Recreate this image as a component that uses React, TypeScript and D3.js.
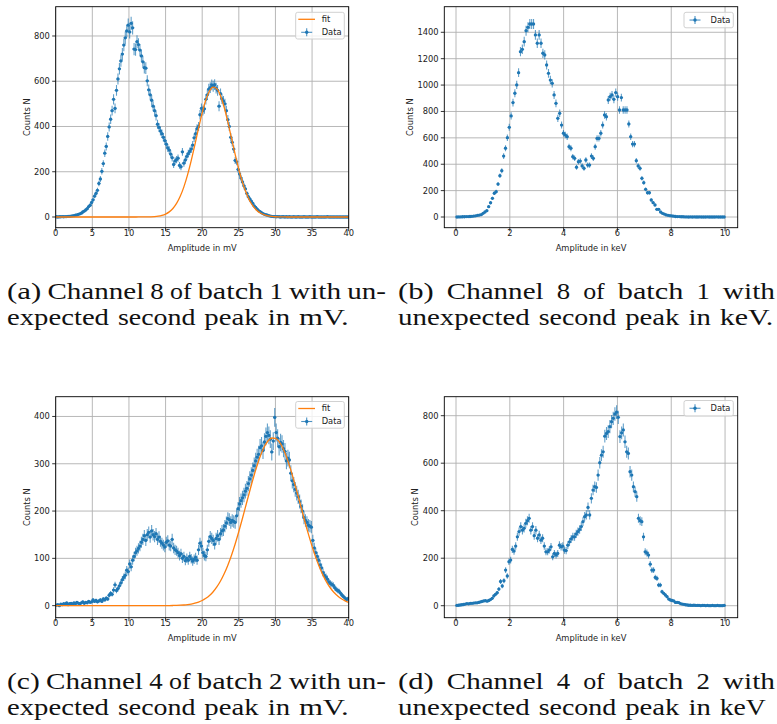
import React from "react";
import * as d3 from "d3";

// ---------------- data ----------------
const MV_BIN = 0.2; // bin width of the mV histograms (centres at 0.1, 0.3, ...)
const KEV_BIN_B = 10 / 144; // bin width of panel (b)
const KEV_BIN_D = 0.0625; // bin width of panel (d)
const FIT_STEP = 0.5; // spacing of the sampled fit curves, mV

// (a) channel 8, batch 1, counts per bin (mV)
const countsA = [
  1, 0, 1, 1, 2, 1, 2, 2, 3, 3,
  4, 5, 6, 8, 9, 12, 14, 17, 22, 26,
  31, 37, 46, 52, 64, 76, 92, 104, 118, 148,
  168, 202, 236, 282, 312, 356, 398, 432, 470, 520,
  480, 560, 610, 655, 690, 720, 760, 792, 822, 848,
  818, 856, 836, 742, 740, 775, 762, 738, 712, 686,
  660, 658, 602, 562, 540, 516, 490, 470, 448, 410,
  396, 380, 368, 352, 338, 322, 305, 296, 278, 262,
  232, 248, 254, 260, 228, 222, 288, 238, 252, 268,
  280, 290, 300, 318, 350, 368, 390, 400, 452, 480,
  470, 478, 520, 540, 565, 572, 584, 578, 585, 570,
  560, 490, 545, 522, 512, 500, 470, 430, 400, 352,
  330, 300, 250, 244, 210, 190, 172, 155, 138, 124,
  104, 90, 80, 70, 60, 49, 42, 35, 28, 24,
  19, 15, 12, 10, 8, 6, 4, 3, 2, 2,
  1, 2, 1, 0, 1, 1, 0, 1, 0, 1,
  0, 0, 1, 0, 0, 1, 0, 0, 0, 1,
  0, 0, 0, 1, 0, 0, 0, 0, 1, 0,
  0, 0, 0, 0, 0, 1, 0, 0, 0, 0,
  0, 0, 0, 0, 0, 0, 0, 0, 0, 0,
];
// (a) fit, sampled every 0.5 mV from 0 to 40
const fitA = [
  0, 0, 0, 0, 0, 0, 0, 0, 0, 0,
  0, 0, 0, 0, 0, 0, 0, 0, 0, 0,
  0, 0, 0.1, 0.2, 0.3, 0.5, 0.9, 1.9, 3.8, 7.2,
  13, 22.6, 37.6, 59.9, 91.3, 133, 186, 249, 319, 392,
  460, 518, 557, 574, 567, 536, 485, 420, 348, 277,
  210, 153, 107, 71, 45.5, 28, 16.3, 9.2, 4.9, 2.5,
  1.2, 0.6, 0.2, 0.1, 0, 0, 0, 0, 0, 0,
  0, 0, 0, 0, 0, 0, 0, 0, 0, 0, 0,
];

// (b) channel 8, batch 1, counts per bin (keV)
const countsB = [
  0, 1, 1, 2, 2, 3, 3, 4, 5, 7,
  9, 12, 15, 18, 28, 38, 48, 78, 108, 142,
  180, 192, 250, 313, 351, 462, 521, 601, 680, 766,
  867, 938, 1001, 1094, 1253, 1271, 1329, 1412, 1438, 1463,
  1463, 1463, 1380, 1317, 1380, 1317, 1241, 1228, 1152, 1089,
  1038, 1013, 925, 862, 748, 786, 697, 635, 621, 609,
  533, 521, 457, 445, 377, 419, 424, 387, 369, 432,
  394, 394, 462, 445, 533, 596, 596, 635, 697, 773,
  760, 887, 912, 925, 892, 943, 912, 811, 905, 811,
  811, 811, 705, 609, 553, 553, 427, 387, 369, 293,
  260, 210, 184, 184, 129, 109, 91, 58, 58, 38,
  28, 22, 16, 13, 10, 8, 6, 4, 3, 3,
  2, 2, 1, 1, 0, 1, 0, 1, 0, 0,
  1, 0, 0, 0, 1, 0, 0, 0, 0, 1,
  0, 0, 0, 0,
];

// (c) channel 4, batch 2, counts per bin (mV)
const countsC = [
  1, 2, 0, 3, 2, 4, 3, 6, 2, 4,
  5, 3, 6, 4, 7, 5, 4, 6, 8, 5,
  7, 6, 9, 7, 8, 12, 9, 11, 8, 10,
  12, 9, 14, 12, 16, 14, 22, 26, 24, 33,
  44, 32, 36, 42, 48, 55, 60, 64, 75, 72,
  88, 82, 96, 104, 112, 116, 121, 126, 134, 140,
  148, 138, 150, 155, 145, 158, 150, 146, 152, 140,
  145, 136, 132, 128, 124, 134, 137, 128, 126, 140,
  122, 118, 116, 112, 106, 110, 100, 104, 95, 100,
  96, 104, 99, 94, 98, 102, 96, 118, 132, 126,
  112, 106, 104, 118, 136, 146, 142, 138, 130, 142,
  148, 140, 152, 158, 160, 168, 175, 184, 182, 176,
  180, 178, 176, 190, 205, 215, 222, 228, 234, 242,
  248, 258, 268, 276, 286, 296, 306, 314, 320, 334,
  338, 328, 346, 358, 366, 360, 352, 325, 348, 398,
  366, 354, 336, 345, 342, 332, 326, 306, 312, 308,
  280, 264, 256, 246, 238, 230, 220, 210, 200, 186,
  180, 176, 170, 168, 166, 138, 122, 112, 104, 96,
  86, 80, 70, 64, 60, 56, 50, 47, 45, 43,
  38, 34, 32, 30, 26, 22, 19, 16, 13, 15,
];
// (c) fit, sampled every 0.5 mV from 0 to 40
const fitC = [
  0, 0, 0, 0, 0, 0, 0, 0, 0, 0,
  0, 0, 0, 0, 0, 0, 0, 0, 0, 0,
  0, 0, 0, 0, 0, 0, 0, 0, 0.04, 0.07,
  0.12, 0.2, 0.34, 0.56, 0.9, 1.4, 2.2, 3.4, 5.1, 7.5,
  10.9, 15.5, 21.5, 29.4, 39.5, 52, 67.3, 85.5, 106.6, 130.4,
  156.7, 184.7, 213.8, 243, 271, 296.7, 319, 336.5, 348.6, 354.5,
  353.8, 346.7, 333.5, 314.9, 291.8, 265.5, 237.2, 208, 179, 151.2,
  125.4, 102.1, 81.6, 64, 49.3, 37.3, 27.7, 20.2, 14.4, 10.1, 7.0,
];

// (d) channel 4, batch 2, counts per bin (keV)
const countsD = [
  1, 2, 3, 4, 5, 7, 9, 8, 10, 10,
  11, 12, 12, 14, 16, 18, 20, 21, 19, 22,
  26, 31, 41, 48, 55, 70, 102, 83, 105, 150,
  125, 185, 192, 237, 230, 251, 290, 312, 333, 318,
  326, 347, 358, 368, 318, 333, 295, 318, 284, 298,
  276, 284, 251, 227, 227, 235, 248, 206, 220, 213,
  220, 255, 248, 251, 234, 232, 255, 269, 281, 290,
  290, 302, 312, 321, 333, 354, 375, 382, 414, 382,
  452, 487, 501, 498, 550, 602, 634, 648, 714, 725,
  733, 754, 775, 789, 807, 815, 793, 712, 728, 740,
  690, 648, 641, 564, 550, 501, 480, 459, 368, 358,
  354, 290, 227, 222, 213, 175, 150, 150, 119, 115,
  87, 87, 59, 52, 45, 38, 28, 24, 22, 20,
  14, 14, 13, 9, 7, 6, 4, 3, 2, 2,
  1, 2, 1, 1, 1, 0, 1, 1, 0, 1,
  0, 0, 1, 0, 0, 1, 0, 0, 0, 1,
];

const ticksMV = [0, 5, 10, 15, 20, 25, 30, 35, 40];
const ticksKeV = [0, 2, 4, 6, 8, 10];
const ticksYA = [0, 200, 400, 600, 800];
const ticksYB = [0, 200, 400, 600, 800, 1000, 1200, 1400];
const ticksYC = [0, 100, 200, 300, 400];
const ticksYD = [0, 200, 400, 600, 800];

const captionA = ["(a) Channel 8 of batch 1 with un-", "expected second peak in mV."];
const captionB = ["(b) Channel 8 of batch 1 with", "unexpected second peak in keV."];
const captionC = ["(c) Channel 4 of batch 2 with un-", "expected second peak in mV."];
const captionD = ["(d) Channel 4 of batch 2 with", "unexpected second peak in keV"];

// ---------------- styling / layout ----------------
const BLUE = "#1f77b4";
const ORANGE = "#ff7f0e";
const SANS = "'DejaVu Sans', sans-serif";
const SERIF = "'Liberation Serif', 'Times New Roman', Times, serif";
const FS = 8.3;

type Panel = {
  id: string;
  left: number; top: number; width: number; height: number;
  xDomain: [number, number]; yDomain: [number, number];
  xTicks: number[]; yTicks: number[];
  xLabel: string; yLabelOffset: number;
  counts: number[]; binWidth: number; xErr: number;
  fit?: number[];
  legend: { x: number; y: number; w: number; h: number };
};

const panels: Panel[] = [
  {
    id: "a", left: 55.7, top: 6.7, width: 293, height: 221,
    xDomain: [0, 40], yDomain: [-47.3, 929.5], xTicks: ticksMV, yTicks: ticksYA,
    xLabel: "Amplitude in mV", yLabelOffset: 29,
    counts: countsA, binWidth: MV_BIN, xErr: 0.22, fit: fitA,
    legend: { x: 295.7, y: 12.3, w: 48.6, h: 26.7 },
  },
  {
    id: "b", left: 444.3, top: 6.7, width: 293.4, height: 221,
    xDomain: [-0.435, 10.47], yDomain: [-81, 1594], xTicks: ticksKeV, yTicks: ticksYB,
    xLabel: "Amplitude in keV", yLabelOffset: 34.3,
    counts: countsB, binWidth: KEV_BIN_B, xErr: 0.05,
    legend: { x: 684, y: 12.3, w: 49.3, h: 15.5 },
  },
  {
    id: "c", left: 55.7, top: 396.7, width: 293, height: 221,
    xDomain: [0, 40], yDomain: [-25.5, 441.8], xTicks: ticksMV, yTicks: ticksYC,
    xLabel: "Amplitude in mV", yLabelOffset: 29,
    counts: countsC, binWidth: MV_BIN, xErr: 0.22, fit: fitC,
    legend: { x: 295.7, y: 401.5, w: 48.6, h: 26.7 },
  },
  {
    id: "d", left: 444.3, top: 396.7, width: 293.4, height: 221,
    xDomain: [-0.435, 10.47], yDomain: [-50.5, 880], xTicks: ticksKeV, yTicks: ticksYD,
    xLabel: "Amplitude in keV", yLabelOffset: 29.3,
    counts: countsD, binWidth: KEV_BIN_D, xErr: 0.045,
    legend: { x: 684, y: 400.5, w: 49.3, h: 15.5 },
  },
];

function PanelView({ p }: { p: Panel }) {
  const x = d3.scaleLinear().domain(p.xDomain).range([p.left, p.left + p.width]);
  const y = d3.scaleLinear().domain(p.yDomain).range([p.top + p.height, p.top]);
  const bottom = p.top + p.height;
  const right = p.left + p.width;

  const pts = p.counts.map((c, i) => ({ xv: p.binWidth * (i + 0.5), yv: c, e: Math.sqrt(c) }));
  let errPath = "";
  for (const d of pts) {
    const cx = x(d.xv), cy = y(d.yv);
    errPath += `M${x(d.xv - p.xErr)},${cy}L${x(d.xv + p.xErr)},${cy}`;
    errPath += `M${cx},${y(d.yv - d.e)}L${cx},${y(d.yv + d.e)}`;
  }
  const fitPath = p.fit
    ? d3.line<number>().x((_, i) => x(i * FIT_STEP)).y((v) => y(v)).curve(d3.curveMonotoneX)(p.fit)
    : null;

  const lg = p.legend;
  const clipId = `clip-${p.id}`;
  return (
    <g>
      <defs>
        <clipPath id={clipId}>
          <rect x={p.left} y={p.top} width={p.width} height={p.height} />
        </clipPath>
      </defs>
      {p.xTicks.map((t) => (
        <line key={`gx${t}`} x1={x(t)} x2={x(t)} y1={p.top} y2={bottom} stroke="#b0b0b0" strokeWidth={0.9} />
      ))}
      {p.yTicks.map((t) => (
        <line key={`gy${t}`} x1={p.left} x2={right} y1={y(t)} y2={y(t)} stroke="#b0b0b0" strokeWidth={0.9} />
      ))}
      <g clipPath={`url(#${clipId})`}>
        <path d={errPath} stroke={BLUE} strokeOpacity={0.7} strokeWidth={1.1} fill="none" />
        {pts.map((d, i) => (
          <circle key={i} cx={x(d.xv)} cy={y(d.yv)} r={1.65} fill={BLUE} />
        ))}
        {fitPath && <path d={fitPath} stroke={ORANGE} strokeWidth={1.3} fill="none" />}
      </g>
      <rect x={p.left} y={p.top} width={p.width} height={p.height} fill="none" stroke="#000" strokeWidth={0.9} />
      {p.xTicks.map((t) => (
        <g key={`tx${t}`}>
          <line x1={x(t)} x2={x(t)} y1={bottom} y2={bottom + 3.5} stroke="#000" strokeWidth={0.8} />
          <text x={x(t)} y={bottom + 7.8} textAnchor="middle" fontFamily={SANS} fontSize={FS} fill="#222">{t}</text>
        </g>
      ))}
      {p.yTicks.map((t) => (
        <g key={`ty${t}`}>
          <line x1={p.left - 3.5} x2={p.left} y1={y(t)} y2={y(t)} stroke="#000" strokeWidth={0.8} />
          <text x={p.left - 5.8} y={y(t)} dy="0.35em" textAnchor="end" fontFamily={SANS} fontSize={FS} fill="#222">{t}</text>
        </g>
      ))}
      <text x={(p.left + right) / 2} y={bottom + 23.3} textAnchor="middle" fontFamily={SANS} fontSize={FS} fill="#222">{p.xLabel}</text>
      <text
        transform={`translate(${p.left - p.yLabelOffset},${(p.top + bottom) / 2}) rotate(-90)`}
        textAnchor="middle" dy="0.35em" fontFamily={SANS} fontSize={FS} fill="#222"
      >Counts N</text>
      <rect x={lg.x} y={lg.y} width={lg.w} height={lg.h} rx={2} fill="#fff" fillOpacity={0.8} stroke="#cccccc" strokeWidth={0.9} />
      {p.fit ? (
        <>
          <line x1={lg.x + 2.6} x2={lg.x + 19.3} y1={lg.y + 7} y2={lg.y + 7} stroke={ORANGE} strokeWidth={1.3} />
          <text x={lg.x + 26} y={lg.y + 7} dy="0.35em" fontFamily={SANS} fontSize={FS} fill="#222">fit</text>
          <LegendErr cx={lg.x + 11} cy={lg.y + 20} />
          <text x={lg.x + 26} y={lg.y + 20} dy="0.35em" fontFamily={SANS} fontSize={FS} fill="#222">Data</text>
        </>
      ) : (
        <>
          <LegendErr cx={lg.x + 11} cy={lg.y + lg.h / 2} />
          <text x={lg.x + 26.5} y={lg.y + lg.h / 2} dy="0.35em" fontFamily={SANS} fontSize={FS} fill="#222">Data</text>
        </>
      )}
    </g>
  );
}

function LegendErr({ cx, cy }: { cx: number; cy: number }) {
  return (
    <g>
      <line x1={cx - 5.5} x2={cx + 5.5} y1={cy} y2={cy} stroke={BLUE} strokeWidth={1.1} strokeOpacity={0.8} />
      <line x1={cx} x2={cx} y1={cy - 4} y2={cy + 4} stroke={BLUE} strokeWidth={1.1} strokeOpacity={0.8} />
      <circle cx={cx} cy={cy} r={1.7} fill={BLUE} />
    </g>
  );
}

// Computer-Modern-like advance widths (em) used to lay out the captions
const CMW: Record<string, number> = {
  "(": 0.389, ")": 0.389, a: 0.5, b: 0.556, c: 0.444, d: 0.556, e: 0.444, f: 0.306,
  h: 0.556, i: 0.278, k: 0.528, l: 0.278, m: 0.833, n: 0.556, o: 0.5, p: 0.556,
  r: 0.392, s: 0.394, t: 0.389, u: 0.556, w: 0.722, x: 0.528, C: 0.722, V: 0.75,
  ".": 0.278, "-": 0.333,
};
const EMX = 26.8;
const wordW = (w: string) => w.split("").reduce((s, ch) => s + (CMW[ch] ?? 0.5), 0) * EMX;

function CaptionLine({ text, x0, x1, y }: { text: string; x0: number; x1: number | null; y: number }) {
  const words = text.split(" ");
  const ws = words.map(wordW);
  const tot = ws.reduce((a, b) => a + b, 0);
  const gap = x1 != null ? (x1 - x0 - tot) / (words.length - 1) : 0.333 * EMX;
  let cur = x0;
  return (
    <g>
      {words.map((w, i) => {
        const el = (
          <text key={i} x={cur} y={y} textLength={ws[i]} lengthAdjust="spacingAndGlyphs"
            style={{ fontFamily: SERIF }} fontSize={22.5} fill="#111">{w}</text>
        );
        cur += ws[i] + gap;
        return el;
      })}
    </g>
  );
}

const captionLayout = [
  { lines: captionA, x0: 7, x1: 386, y: 299 },
  { lines: captionB, x0: 398, x1: 775, y: 299 },
  { lines: captionC, x0: 7, x1: 386, y: 689 },
  { lines: captionD, x0: 398, x1: 775, y: 689 },
];

export default function App() {
  return (
    <svg width={777} height={724} style={{ position: "absolute", left: 0, top: 0, background: "#fff" }}>
      <rect x={0} y={0} width={777} height={724} fill="#fff" />
      {panels.map((p) => (
        <PanelView key={p.id} p={p} />
      ))}
      {captionLayout.map((c, i) => (
        <g key={i}>
          <CaptionLine text={c.lines[0]} x0={c.x0} x1={c.x1} y={c.y} />
          <CaptionLine text={c.lines[1]} x0={c.x0} x1={null} y={c.y + 26} />
        </g>
      ))}
    </svg>
  );
}
